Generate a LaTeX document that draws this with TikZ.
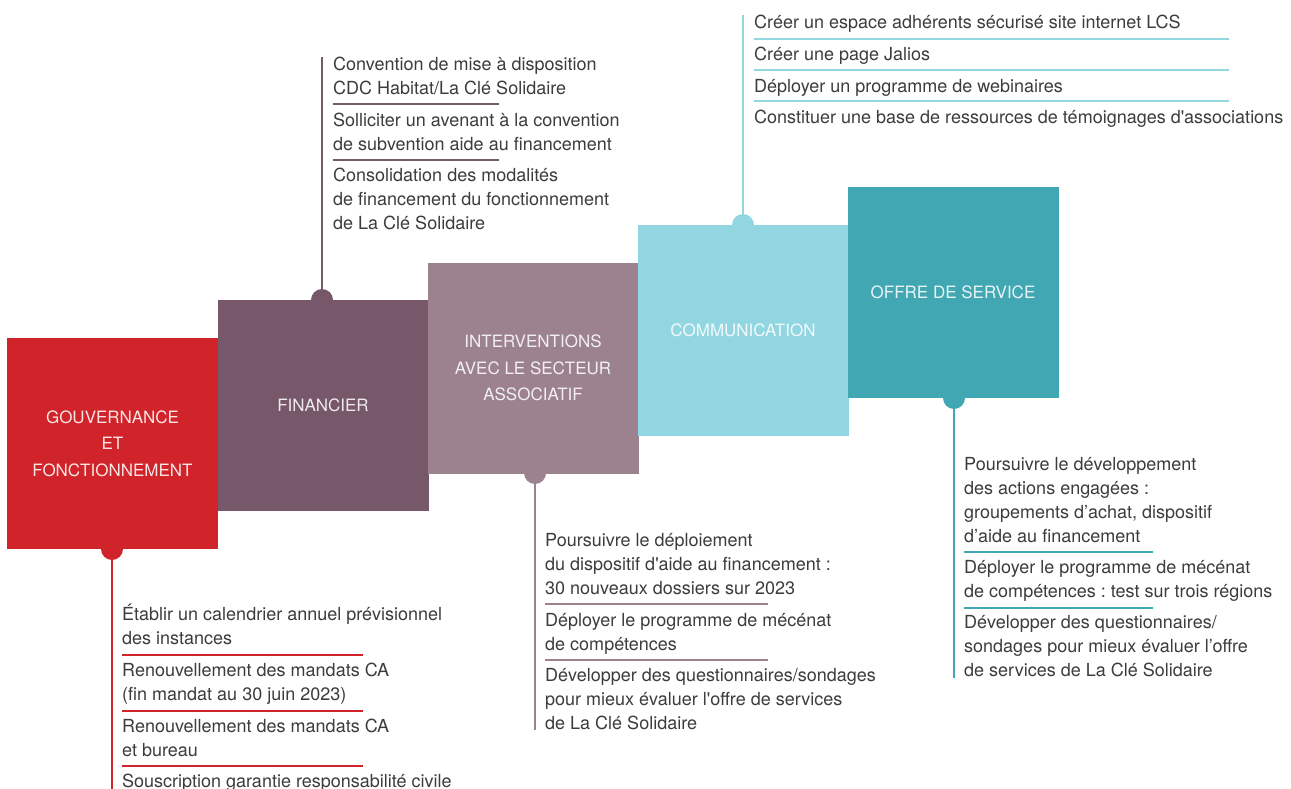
\documentclass[tikz,border=0pt]{standalone}
\usepackage{fontspec}
\setmainfont{TeX Gyre Heros}[Ligatures=TeXOff]
\frenchspacing
\definecolor{cgov}{HTML}{D0232A}
\definecolor{cfin}{HTML}{76586A}
\definecolor{cint}{HTML}{9C828E}
\definecolor{ccom}{HTML}{92D6E2}
\definecolor{coff}{HTML}{41A8B3}
\definecolor{txt}{HTML}{3C3C3C}
\begin{document}
\begin{tikzpicture}[x=1pt,y=-1pt,
  box/.style={minimum width=211pt,minimum height=211pt,inner sep=0pt,align=center,
    text=white,text opacity=0.88,font=\fontsize{17}{26.5}\selectfont},
  dotnode/.style={circle,minimum size=22pt,inner sep=0pt},
  vline/.style={line width=2pt},
  sep/.style={line width=1.4pt},
  item/.style={anchor=base west,align=left,inner sep=0pt,text=txt,
    font=\fontsize{18}{24}\selectfont}]
\useasboundingbox[fill=white] (0,0) rectangle (1291,789);

% ---------- boxes ----------
\node[box,fill=cgov] (gov) at (112.5,443.5) {GOUVERNANCE\\ET\\FONCTIONNEMENT};
\node[box,fill=cfin] (fin) at (323,405.5) {FINANCIER};
\node[box,fill=cint] (int) at (533,368) {INTERVENTIONS\\AVEC LE SECTEUR\\ASSOCIATIF};
\node[box,fill=ccom] (com) at (743,330.5) {COMMUNICATION};
\node[box,fill=coff] (off) at (953,292.5) {OFFRE DE SERVICE};

% ---------- stems ----------
\coordinate (govend) at (112,789);
\coordinate (finend) at (322,57);
\coordinate (intend) at (535,730);
\coordinate (comend) at (743,15);
\coordinate (offend) at (954,678);
\node[dotnode,fill=cgov] (govdot) at (112,549) {};
\node[dotnode,fill=cfin] (findot) at (322,300) {};
\node[dotnode,fill=cint] (intdot) at (535,473) {};
\node[dotnode,fill=ccom] (comdot) at (743,225) {};
\node[dotnode,fill=coff] (offdot) at (954,398) {};
\draw[vline,cgov] (govdot.center) -- (govend);
\draw[vline,cfin] (findot.center) -- (finend);
\draw[vline,cint] (intdot.center) -- (intend);
\draw[vline,ccom] (comdot.center) -- (comend);
\draw[vline,coff] (offdot.center) -- (offend);

% ---------- FINANCIER items (anchored at last line baseline) ----------
\node[item] (f1) at (333,94.5) {Convention de mise à disposition\\CDC Habitat/La Clé Solidaire};
\node[item] (f2) at (333,150.5) {Solliciter un avenant à la convention\\de subvention aide au financement};
\node[item] (f3) at (333,229.5) {Consolidation des modalités\\de financement du fonctionnement\\de La Clé Solidaire};
\draw[sep,cfin] (333,104) -- (499,104);
\draw[sep,cfin] (333,160) -- (499,160);

% ---------- COMMUNICATION items ----------
\node[item] (c1) at (754,28.5) {Créer un espace adhérents sécurisé site internet LCS};
\node[item] (c2) at (754,60.5) {Créer une page Jalios};
\node[item] (c3) at (754,92.5) {Déployer un programme de webinaires};
\node[item] (c4) at (754,123.5) {Constituer une base de ressources de témoignages d'associations};
\draw[sep,ccom] (754,39) -- (1229,39);
\draw[sep,ccom] (754,70) -- (1229,70);
\draw[sep,ccom] (754,101) -- (1229,101);

% ---------- GOUVERNANCE items ----------
\node[item] (g1) at (122,644.5) {Établir un calendrier annuel prévisionnel\\des instances};
\node[item] (g2) at (122,700.5) {Renouvellement des mandats CA\\(fin mandat au 30 juin 2023)};
\node[item] (g3) at (122,756.5) {Renouvellement des mandats CA\\et bureau};
\node[item] (g4) at (122,787.5) {Souscription garantie responsabilité civile};
\draw[sep,cgov] (122,655) -- (363,655);
\draw[sep,cgov] (122,711) -- (363,711);
\draw[sep,cgov] (122,766) -- (363,766);

% ---------- INTERVENTIONS items ----------
\node[item] (i1) at (545,594.5) {Poursuivre le déploiement\\du dispositif d'aide au financement :\\30 nouveaux dossiers sur 2023};
\node[item] (i2) at (545,650.5) {Déployer le programme de mécénat\\de compétences};
\node[item] (i3) at (545,729.5) {Développer des questionnaires/sondages\\pour mieux évaluer l'offre de services\\de La Clé Solidaire};
\draw[sep,cint] (545,604) -- (768,604);
\draw[sep,cint] (545,660) -- (768,660);

% ---------- OFFRE items ----------
\node[item] (o1) at (964,542.5) {Poursuivre le développement\\des actions engagées :\\groupements d’achat, dispositif\\d’aide au financement};
\node[item] (o2) at (964,597.5) {Déployer le programme de mécénat\\de compétences : test sur trois régions};
\node[item] (o3) at (964,676.5) {Développer des questionnaires/\\sondages pour mieux évaluer l’offre\\de services de La Clé Solidaire};
\draw[sep,coff] (964,552) -- (1153,552);
\draw[sep,coff] (964,608) -- (1153,608);
\end{tikzpicture}
\end{document}
